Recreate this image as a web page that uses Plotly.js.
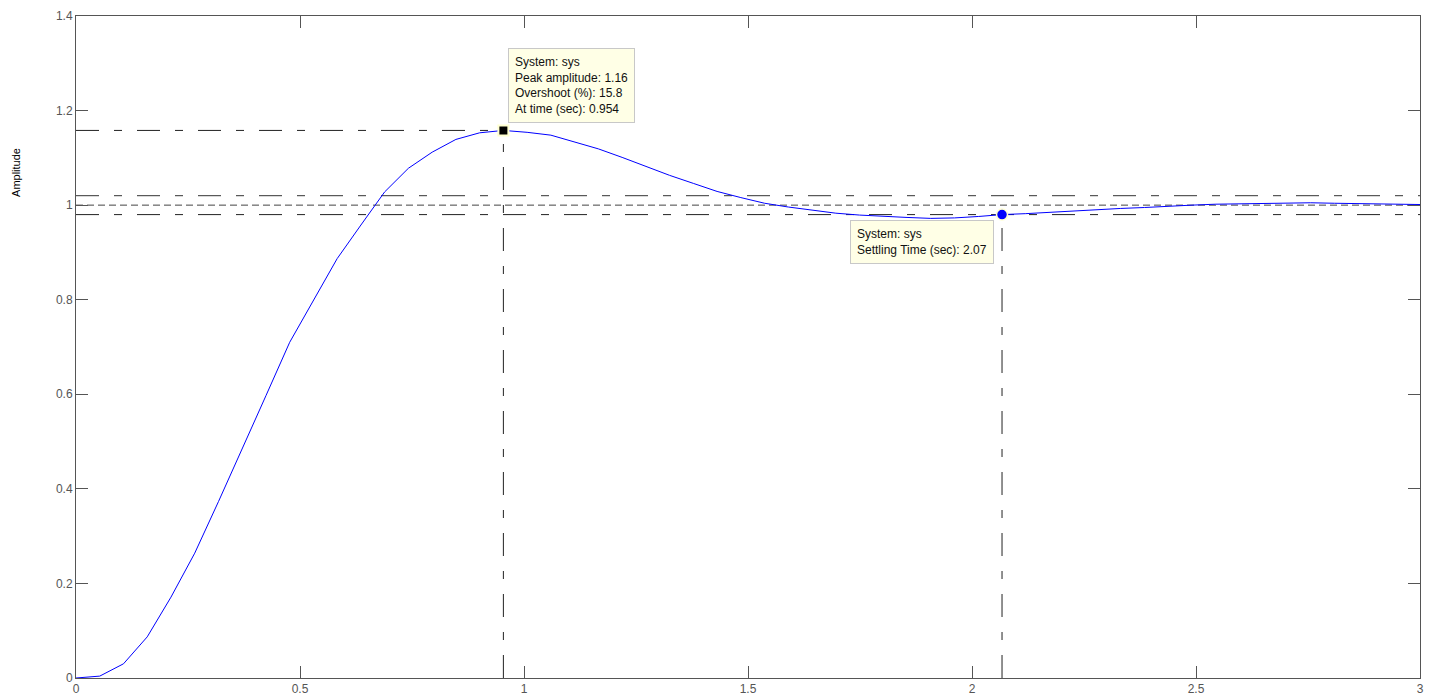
<!DOCTYPE html>
<html>
<head>
<meta charset="utf-8">
<script src="https://cdn.plot.ly/plotly-3.0.1.min.js"></script>
<style>html,body{margin:0;padding:0;background:#fff;}#chart{width:1438px;height:698px;}</style>
</head>
<body>
<div id="chart"></div>
<script>
// Step response samples
var timeSec = [0, 0.053, 0.106, 0.159, 0.212, 0.265, 0.318, 0.371, 0.424, 0.477,
  0.530, 0.583, 0.636, 0.689, 0.742, 0.795, 0.848, 0.901, 0.954, 1.007,
  1.060, 1.113, 1.166, 1.219, 1.272, 1.325, 1.378, 1.431, 1.484, 1.537,
  1.590, 1.643, 1.696, 1.749, 1.802, 1.855, 1.908, 1.961, 2.014, 2.067,
  2.120, 2.173, 2.226, 2.279, 2.332, 2.385, 2.438, 2.491, 2.544, 2.597,
  2.650, 2.703, 2.756, 2.809, 2.862, 2.915, 2.968, 3.021];
var amplitude = [0, 0.004, 0.030, 0.087, 0.171, 0.264, 0.373, 0.484, 0.597, 0.710,
  0.799, 0.887, 0.958, 1.028, 1.078, 1.112, 1.139, 1.153, 1.158, 1.154,
  1.148, 1.134, 1.119, 1.101, 1.082, 1.063, 1.046, 1.029, 1.016, 1.004,
  0.996, 0.989, 0.983, 0.979, 0.976, 0.974, 0.972, 0.973, 0.976, 0.980,
  0.982, 0.985, 0.988, 0.991, 0.993, 0.995, 0.998, 1.000, 1.002, 1.003,
  1.004, 1.005, 1.005, 1.004, 1.003, 1.002, 1.001, 1.001];

var peakTime = 0.954, peakAmp = 1.158;
var settleTime = 2.067, settleAmp = 0.980;
var finalValue = 1.0, bandUpper = 1.02, bandLower = 0.98;
var xRange = [0, 3], yRange = [0, 1.4];
var xTicks = [0, 0.5, 1, 1.5, 2, 2.5, 3];
var xTickText = ['0', '0.5', '1', '1.5', '2', '2.5', '3'];
var yTicks = [0, 0.2, 0.4, 0.6, 0.8, 1, 1.2, 1.4];
var yTickText = ['0', '0.2', '0.4', '0.6', '0.8', '1', '1.2', '1.4'];
var peakText = 'System: sys<br>Peak amplitude: 1.16<br>Overshoot (%): 15.8<br>At time (sec): 0.954';
var settleText = 'System: sys<br>Settling Time (sec): 2.07';

var FONT = 'Liberation Sans, Arial, Helvetica, sans-serif';
var dashDot = '23px,15px,8px,15px';

var traces = [
  {x: timeSec, y: amplitude, type: 'scatter', mode: 'lines',
   line: {color: '#0000ff', width: 1}, hoverinfo: 'skip', showlegend: false},
  {x: [peakTime], y: [peakAmp], type: 'scatter', mode: 'markers',
   marker: {symbol: 'square', size: 10, color: '#000000', line: {color: '#ffffd0', width: 2}},
   hoverinfo: 'skip', showlegend: false},
  {x: [settleTime], y: [settleAmp], type: 'scatter', mode: 'markers',
   marker: {symbol: 'circle', size: 11, color: '#0000ff', line: {color: '#ffffd0', width: 1.5}},
   hoverinfo: 'skip', showlegend: false}
];

function hline(y, x0, x1, dash, color) {
  return {type: 'line', xref: 'x', yref: 'y', x0: x0, x1: x1, y0: y, y1: y,
          line: {color: color, width: 1, dash: dash}, layer: 'below'};
}
function vline(x, y0, y1, dash, color) {
  return {type: 'line', xref: 'x', yref: 'y', x0: x, x1: x, y0: y0, y1: y1,
          line: {color: color, width: 1, dash: dash}, layer: 'below'};
}

var shapes = [
  hline(bandUpper, xRange[0], xRange[1], dashDot, '#333333'),
  hline(bandLower, xRange[0], xRange[1], dashDot, '#222222'),
  hline(finalValue, xRange[0], xRange[1], '7px,4px', '#444444'),
  hline(peakAmp, xRange[0], peakTime, dashDot, '#222222'),
  vline(peakTime, yRange[0], peakAmp, dashDot, '#222222'),
  vline(settleTime, yRange[0], settleAmp, dashDot, '#222222')
];

var annotations = [
  {xref: 'x', yref: 'y', x: 0.964, y: 1.333, xanchor: 'left', yanchor: 'top',
   text: peakText, showarrow: false, align: 'left',
   font: {family: FONT, size: 12, color: '#111'},
   bgcolor: '#ffffe6', bordercolor: '#c8c8c8', borderwidth: 1, borderpad: 6},
  {xref: 'x', yref: 'y', x: 1.728, y: 0.969, xanchor: 'left', yanchor: 'top',
   text: settleText, showarrow: false, align: 'left',
   font: {family: FONT, size: 12, color: '#111'},
   bgcolor: '#ffffe6', bordercolor: '#c8c8c8', borderwidth: 1, borderpad: 6},
  {xref: 'paper', yref: 'paper', x: -0.0446, y: 0.763, xanchor: 'center', yanchor: 'middle',
   text: 'Amplitude', textangle: -90, showarrow: false,
   font: {family: FONT, size: 11, color: '#000'}}
];

var axisCommon = {
  showgrid: false, zeroline: false, showline: true, linecolor: '#555', linewidth: 1,
  mirror: 'ticks', ticks: 'inside', ticklen: 12, tickcolor: '#555', tickwidth: 1,
  tickfont: {family: FONT, size: 12, color: '#555'}, fixedrange: true
};

var layout = {
  width: 1438, height: 698,
  margin: {l: 76, r: 18, t: 16, b: 20, pad: 0},
  paper_bgcolor: '#ffffff', plot_bgcolor: '#ffffff',
  xaxis: Object.assign({}, axisCommon, {range: xRange, tickvals: xTicks, ticktext: xTickText}),
  yaxis: Object.assign({}, axisCommon, {range: yRange, tickvals: yTicks, ticktext: yTickText}),
  shapes: shapes, annotations: annotations, showlegend: false, hovermode: false
};

Plotly.newPlot('chart', traces, layout, {displayModeBar: false, staticPlot: true});
</script>
</body>
</html>
